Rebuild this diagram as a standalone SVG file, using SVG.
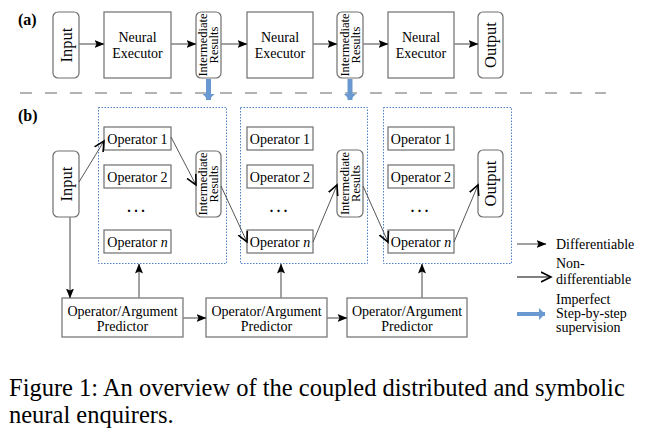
<svg xmlns="http://www.w3.org/2000/svg" width="646" height="435" viewBox="0 0 646 435" font-family="'Liberation Serif', 'Times New Roman', serif">
<style>
text{font-family:"Liberation Serif","Times New Roman",serif;fill:#000}
.box{fill:#fff;stroke:#6e6e6e;stroke-width:1.2}
.rbox{fill:#fff;stroke:#6e6e6e;stroke-width:1.2}
.dot{fill:none;stroke:#4f7fc4;stroke-width:1;stroke-dasharray:1.5 1.5}
.diff{fill:none;stroke:#8a8a8a;stroke-width:1.6}
.nd{fill:none;stroke:#444;stroke-width:0.9}
.sup{fill:none;stroke:#6a98d0;stroke-width:5}
.t14{font-size:14px}
.t13{font-size:14px}
.big{font-size:16.5px}
.ir{font-size:12.5px}
.lab{font-size:16px;font-weight:bold}
.cap{font-size:24.5px}
.leg{font-size:14px}
</style>
<defs>
<marker id="tri" markerUnits="userSpaceOnUse" markerWidth="10" markerHeight="8" refX="9.5" refY="4" orient="auto">
<path d="M0,0 L10,4 L0,8 L2,4 z" fill="#000"/>
</marker>
<marker id="chev" markerUnits="userSpaceOnUse" markerWidth="12" markerHeight="12" refX="10" refY="6" orient="auto">
<path d="M0,1 L10,6 L0,11" fill="none" stroke="#000" stroke-width="1.6"/>
</marker>
<marker id="blue" markerUnits="userSpaceOnUse" markerWidth="12" markerHeight="12" refX="6" refY="6" orient="auto">
<path d="M0,0 L6,6 L0,12 z" fill="#6a98d0"/>
</marker>
</defs>

<text class="lab" x="18" y="25">(a)</text>
<text class="lab" x="18" y="121">(b)</text>

<line x1="20" y1="93" x2="606" y2="93" stroke="#9a9a9a" stroke-width="1.5" stroke-dasharray="12 13"/>

<g id="a-input"><rect class="rbox" x="53" y="12" width="26" height="66" rx="5"/><text class="big" text-anchor="middle" transform="translate(66,45) rotate(-90)" y="5.5">Input</text></g>
<g id="a-ne1"><rect class="box" x="104" y="12" width="67" height="66"/><text class="t14" text-anchor="middle" x="137.5" y="42">Neural</text><text class="t14" text-anchor="middle" x="137.5" y="58">Executor</text></g>
<g id="a-ir1"><rect class="rbox" x="196" y="12" width="25" height="66" rx="5"/><text class="ir" text-anchor="middle" transform="translate(208.5,45) rotate(-90)"><tspan x="0" y="-1.5">Intermediate</tspan><tspan x="0" y="9.5">Results</tspan></text></g>
<g id="a-ne2"><rect class="box" x="247" y="12" width="66" height="66"/><text class="t14" text-anchor="middle" x="280" y="42">Neural</text><text class="t14" text-anchor="middle" x="280" y="58">Executor</text></g>
<g id="a-ir2"><rect class="rbox" x="337" y="12" width="26" height="66" rx="5"/><text class="ir" text-anchor="middle" transform="translate(350,45) rotate(-90)"><tspan x="0" y="-1.5">Intermediate</tspan><tspan x="0" y="9.5">Results</tspan></text></g>
<g id="a-ne3"><rect class="box" x="388" y="12" width="66" height="66"/><text class="t14" text-anchor="middle" x="421" y="42">Neural</text><text class="t14" text-anchor="middle" x="421" y="58">Executor</text></g>
<g id="a-output"><rect class="rbox" x="478" y="12" width="25" height="66" rx="5"/><text class="big" text-anchor="middle" transform="translate(490.5,45) rotate(-90)" y="5.5">Output</text></g>

<g id="b-box1"><rect class="dot" x="98.5" y="107.5" width="128" height="156"/></g>
<g id="b-box2"><rect class="dot" x="240.5" y="107.5" width="127" height="156"/></g>
<g id="b-box3"><rect class="dot" x="383.5" y="107.5" width="128" height="156"/></g>

<g id="b-input"><rect class="rbox" x="53" y="151" width="26" height="66" rx="5"/><text class="big" text-anchor="middle" transform="translate(66,184) rotate(-90)" y="5.5">Input</text></g>

<g id="b1-op1"><rect class="box" x="104" y="127" width="67" height="23"/><text class="t14" text-anchor="middle" x="137.5" y="143.5">Operator 1</text></g>
<g id="b1-op2"><rect class="box" x="104" y="165" width="67" height="23"/><text class="t14" text-anchor="middle" x="137.5" y="181.5">Operator 2</text></g>
<g id="b1-dots"><text class="t14" font-weight="bold" text-anchor="middle" x="136" y="212">. . .</text></g>
<g id="b1-opn"><rect class="box" x="104" y="230" width="67" height="23"/><text class="t14" text-anchor="middle" x="137.5" y="246.5">Operator <tspan font-style="italic">n</tspan></text></g>
<g id="b-ir1"><rect class="rbox" x="196" y="151" width="25" height="66" rx="5"/><text class="ir" text-anchor="middle" transform="translate(208.5,184) rotate(-90)"><tspan x="0" y="-1.5">Intermediate</tspan><tspan x="0" y="9.5">Results</tspan></text></g>

<g id="b2-op1"><rect class="box" x="247" y="127" width="66" height="23"/><text class="t14" text-anchor="middle" x="280" y="143.5">Operator 1</text></g>
<g id="b2-op2"><rect class="box" x="247" y="165" width="66" height="23"/><text class="t14" text-anchor="middle" x="280" y="181.5">Operator 2</text></g>
<g id="b2-dots"><text class="t14" font-weight="bold" text-anchor="middle" x="278.5" y="212">. . .</text></g>
<g id="b2-opn"><rect class="box" x="247" y="230" width="66" height="23"/><text class="t14" text-anchor="middle" x="280" y="246.5">Operator <tspan font-style="italic">n</tspan></text></g>
<g id="b-ir2"><rect class="rbox" x="337" y="150" width="26" height="67" rx="5"/><text class="ir" text-anchor="middle" transform="translate(350,183.5) rotate(-90)"><tspan x="0" y="-1.5">Intermediate</tspan><tspan x="0" y="9.5">Results</tspan></text></g>

<g id="b3-op1"><rect class="box" x="388" y="127" width="66" height="23"/><text class="t14" text-anchor="middle" x="421" y="143.5">Operator 1</text></g>
<g id="b3-op2"><rect class="box" x="388" y="165" width="66" height="23"/><text class="t14" text-anchor="middle" x="421" y="181.5">Operator 2</text></g>
<g id="b3-dots"><text class="t14" font-weight="bold" text-anchor="middle" x="419.5" y="212">. . .</text></g>
<g id="b3-opn"><rect class="box" x="388" y="230" width="66" height="23"/><text class="t14" text-anchor="middle" x="421" y="246.5">Operator <tspan font-style="italic">n</tspan></text></g>
<g id="b-output"><rect class="rbox" x="478" y="150" width="25" height="67" rx="5"/><text class="big" text-anchor="middle" transform="translate(490.5,183.5) rotate(-90)" y="5.5">Output</text></g>

<g id="pred1"><rect class="box" x="62" y="298" width="121" height="39"/><text class="t13" text-anchor="middle" x="122.5" y="316">Operator/Argument</text><text class="t13" text-anchor="middle" x="122.5" y="330.5">Predictor</text></g>
<g id="pred2"><rect class="box" x="206" y="298" width="121" height="39"/><text class="t13" text-anchor="middle" x="266.5" y="316">Operator/Argument</text><text class="t13" text-anchor="middle" x="266.5" y="330.5">Predictor</text></g>
<g id="pred3"><rect class="box" x="347" y="298" width="120" height="39"/><text class="t13" text-anchor="middle" x="407" y="316">Operator/Argument</text><text class="t13" text-anchor="middle" x="407" y="330.5">Predictor</text></g>

<g id="connectors">
<line class="diff" x1="79" y1="44" x2="104" y2="44" marker-end="url(#tri)"/>
<line class="diff" x1="171" y1="44" x2="196" y2="44" marker-end="url(#tri)"/>
<line class="diff" x1="221" y1="44" x2="247" y2="44" marker-end="url(#tri)"/>
<line class="diff" x1="313" y1="44" x2="337" y2="44" marker-end="url(#tri)"/>
<line class="diff" x1="363" y1="44" x2="388" y2="44" marker-end="url(#tri)"/>
<line class="diff" x1="454" y1="44" x2="478" y2="44" marker-end="url(#tri)"/>

<line class="sup" x1="208.5" y1="79" x2="208.5" y2="100" marker-end="url(#blue)"/>
<line class="sup" x1="350" y1="79" x2="350" y2="100" marker-end="url(#blue)"/>

<line class="nd" x1="79" y1="182" x2="104" y2="141" marker-end="url(#chev)"/>
<line class="nd" x1="171" y1="137" x2="196" y2="185" marker-end="url(#chev)"/>
<line class="nd" x1="221" y1="186" x2="247" y2="242" marker-end="url(#chev)"/>
<line class="nd" x1="313" y1="242" x2="337" y2="185" marker-end="url(#chev)"/>
<line class="nd" x1="363" y1="186" x2="388" y2="242" marker-end="url(#chev)"/>
<line class="nd" x1="454" y1="242" x2="478" y2="185" marker-end="url(#chev)"/>

<line class="diff" x1="70" y1="217" x2="70" y2="298" marker-end="url(#tri)"/>
<line class="diff" x1="139" y1="298" x2="139" y2="264" marker-end="url(#tri)"/>
<line class="diff" x1="281" y1="298" x2="281" y2="264" marker-end="url(#tri)"/>
<line class="diff" x1="422" y1="298" x2="422" y2="264" marker-end="url(#tri)"/>
<line class="diff" x1="183" y1="318" x2="206" y2="318" marker-end="url(#tri)"/>
<line class="diff" x1="327" y1="318" x2="347" y2="318" marker-end="url(#tri)"/>
</g>

<g id="legend">
<line class="diff" x1="517" y1="244" x2="546" y2="244" marker-end="url(#tri)"/>
<text class="leg" x="556" y="248.5">Differentiable</text>
<line x1="517" y1="277" x2="551" y2="277" stroke="#000" stroke-width="1" marker-end="url(#chev)"/>
<text class="leg" x="556" y="268">Non-</text>
<text class="leg" x="556" y="284">differentiable</text>
<line x1="517" y1="314" x2="545" y2="314" stroke="#6a98d0" stroke-width="4" marker-end="url(#blue)"/>
<text class="leg" x="556" y="304">Imperfect</text>
<text class="leg" x="556" y="318">Step-by-step</text>
<text class="leg" x="556" y="332">supervision</text>
</g>

<text class="cap" x="9" y="395.5">Figure 1: An overview of the coupled distributed and symbolic</text>
<text class="cap" x="9" y="423">neural enquirers.</text>
</svg>
